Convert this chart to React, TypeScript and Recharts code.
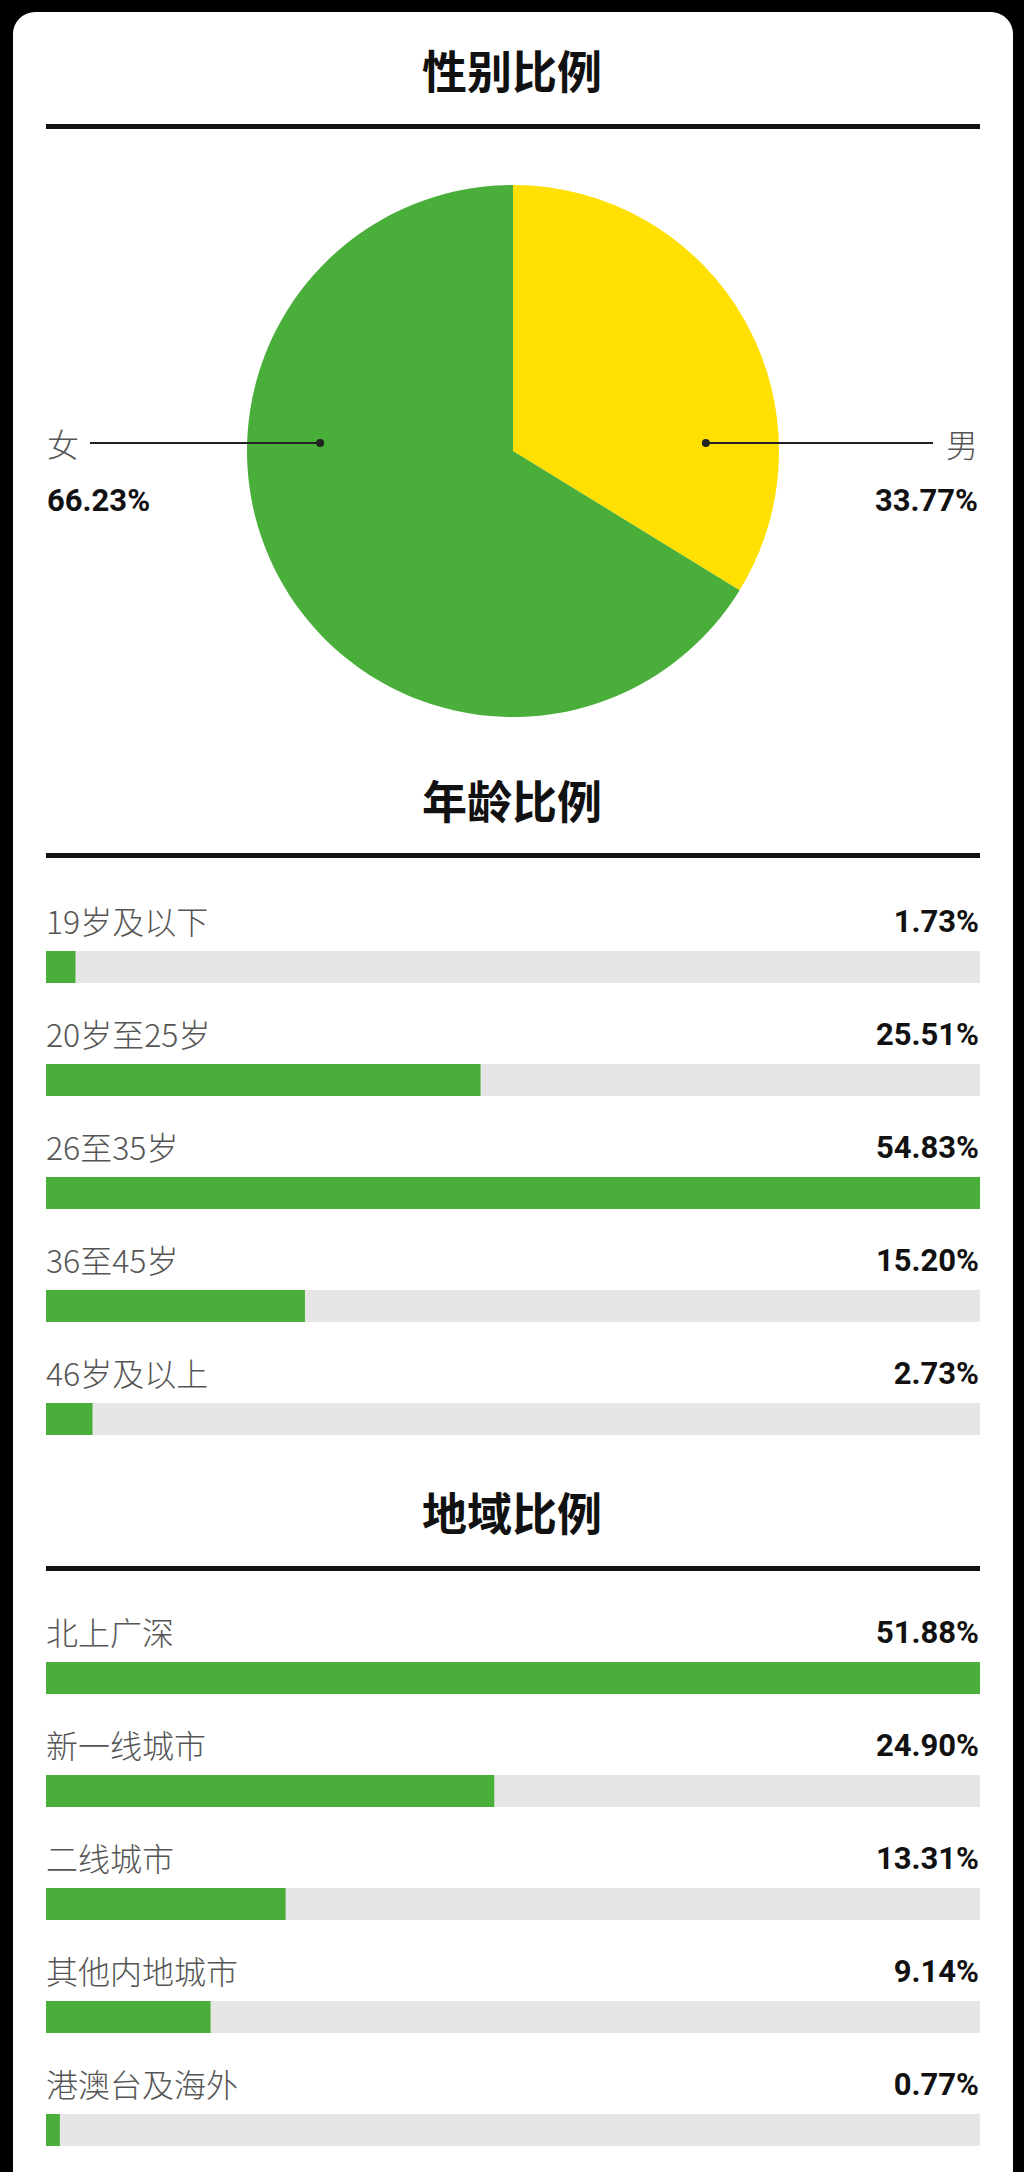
import React from "react";
import { PieChart, Pie, Cell, BarChart, Bar, XAxis, YAxis, LabelList } from "recharts";

const genderNames = ["男", "女"];
const genderValues = [33.77, 66.23];
const genderColors = ["#ffe000", "#4aae3a"];

const ageLabels = ["19岁及以下", "20岁至25岁", "26至35岁", "36至45岁", "46岁及以上"];
const ageValues = [1.73, 25.51, 54.83, 15.2, 2.73];

const regionLabels = ["北上广深", "新一线城市", "二线城市", "其他内地城市", "港澳台及海外"];
const regionValues = [51.88, 24.9, 13.31, 9.14, 0.77];

const GREEN = "#4aae3a";
const TRACK = "#e6e6e6";
const INK = "#111";
const CJK = '"Noto Sans CJK SC", "Noto Sans", sans-serif';
const NUM = 'Roboto, "Noto Sans", sans-serif';

const CHART_LEFT = 46;
const CHART_W = 934;
const PIE_TOP = 171;
const PIE_H = 560;
const ROW_PITCH = 113;
const TOP_PAD = 50; // room for the first row's labels
const LABEL_GAP = 31; // bar top -> label centre

const genderData = genderNames.map((name, i) => ({ name, value: genderValues[i] }));
const ageData = ageLabels.map((name, i) => ({ name, value: ageValues[i] }));
const regionData = regionLabels.map((name, i) => ({ name, value: regionValues[i] }));

function Title({ text, centerY }: { text: string; centerY: number }) {
  return (
    <div
      style={{
        position: "absolute",
        left: 0,
        top: centerY - 30,
        width: 1024,
        height: 60,
        lineHeight: "60px",
        textAlign: "center",
        fontFamily: CJK,
        fontWeight: 700,
        fontSize: 45,
        color: INK,
      }}
    >
      {text}
    </div>
  );
}

function Rule({ top }: { top: number }) {
  return (
    <div
      style={{ position: "absolute", left: CHART_LEFT, top, width: CHART_W, height: 5, background: INK }}
    />
  );
}

const RAD = Math.PI / 180;

const renderGenderLabel = (p: any) => {
  const right = Math.cos(p.midAngle * RAD) > 0;
  const y = p.cy - 8;
  const dotX = p.cx + (right ? 1 : -1) * p.outerRadius * 0.725;
  const lineEnd = right ? CHART_W - 47 : 44;
  const textX = right ? CHART_W - 2 : 1;
  const anchor = right ? "end" : "start";
  return (
    <g key={p.name}>
      <line x1={dotX} y1={y} x2={lineEnd} y2={y} stroke="#222" strokeWidth={2} />
      <circle cx={dotX} cy={y} r={4} fill="#222" />
      <text
        x={textX}
        y={y}
        textAnchor={anchor}
        dominantBaseline="central"
        fontFamily={CJK}
        fontWeight={300}
        fontSize={32}
        fill="#555"
      >
        {p.name}
      </text>
      <text
        x={textX}
        y={y + 57}
        textAnchor={anchor}
        dominantBaseline="central"
        fontFamily={NUM}
        fontWeight={700}
        fontSize={31}
        fill={INK}
      >
        {Number(p.value).toFixed(2)}%
      </text>
    </g>
  );
};

function BarSection({ data, firstCenter }: { data: { name: string; value: number }[]; firstCenter: number }) {
  const height = data.length * ROW_PITCH + TOP_PAD;
  const top = firstCenter - ROW_PITCH / 2 - TOP_PAD;
  return (
    <div style={{ position: "absolute", left: CHART_LEFT, top }}>
      <BarChart
        width={CHART_W}
        height={height}
        data={data}
        layout="vertical"
        margin={{ top: TOP_PAD, right: 0, bottom: 0, left: 0 }}
      >
        <XAxis type="number" domain={[0, "dataMax"]} hide />
        <YAxis type="category" dataKey="name" hide width={0} />
        <Bar
          dataKey="value"
          fill={GREEN}
          barSize={32}
          background={{ fill: TRACK }}
          isAnimationActive={false}
        >
          <LabelList
            dataKey="name"
            content={(p: any) => (
              <text
                x={0}
                y={p.y - LABEL_GAP}
                dominantBaseline="central"
                fontFamily={CJK}
                fontWeight={300}
                fontSize={32}
                fill="#555"
              >
                {p.value}
              </text>
            )}
          />
          <LabelList
            dataKey="value"
            content={(p: any) => (
              <text
                x={CHART_W - 1}
                y={p.y - LABEL_GAP + 1}
                textAnchor="end"
                dominantBaseline="central"
                fontFamily={NUM}
                fontWeight={700}
                fontSize={31}
                fill={INK}
              >
                {Number(p.value).toFixed(2)}%
              </text>
            )}
          />
        </Bar>
      </BarChart>
    </div>
  );
}

export default function App() {
  return (
    <div
      style={{
        position: "absolute",
        left: 0,
        top: 0,
        width: 1024,
        height: 2172,
        background: "#000",
        overflow: "hidden",
      }}
    >
      <div
        style={{
          position: "absolute",
          left: 13,
          top: 12,
          width: 1000,
          height: 2200,
          background: "#fff",
          borderRadius: 22,
        }}
      />

      <Title text="性别比例" centerY={70} />
      <Rule top={124} />
      <div style={{ position: "absolute", left: CHART_LEFT, top: PIE_TOP }}>
        <PieChart width={CHART_W} height={PIE_H} margin={{ top: 0, right: 0, bottom: 0, left: 0 }}>
          <Pie
            data={genderData}
            dataKey="value"
            nameKey="name"
            cx={467}
            cy={280}
            outerRadius={266}
            startAngle={90}
            endAngle={-270}
            stroke="none"
            label={renderGenderLabel}
            labelLine={false}
            isAnimationActive={false}
          >
            {genderData.map((d, i) => (
              <Cell key={d.name} fill={genderColors[i]} />
            ))}
          </Pie>
        </PieChart>
      </div>

      <Title text="年龄比例" centerY={800} />
      <Rule top={853} />
      <BarSection data={ageData} firstCenter={966} />

      <Title text="地域比例" centerY={1512} />
      <Rule top={1566} />
      <BarSection data={regionData} firstCenter={1677} />
    </div>
  );
}
